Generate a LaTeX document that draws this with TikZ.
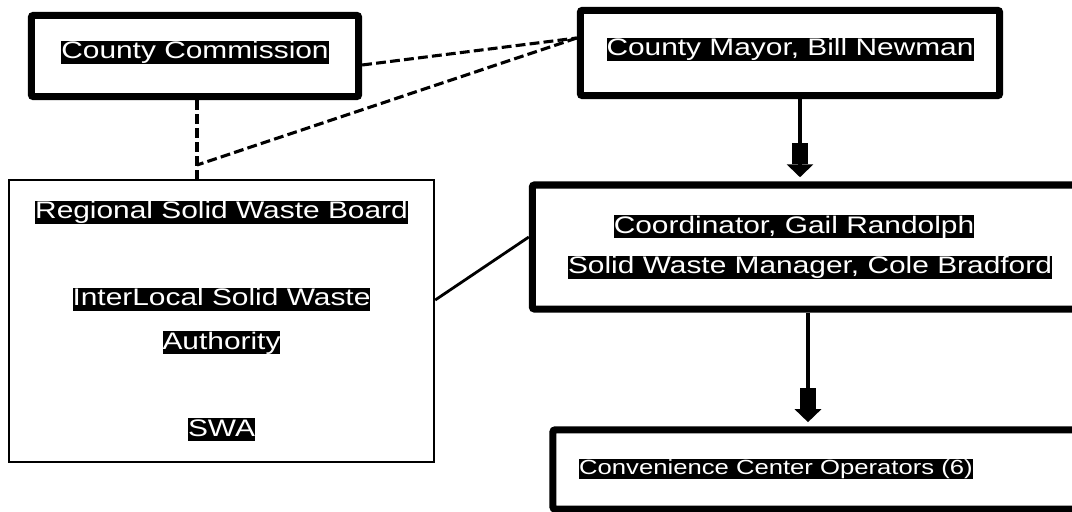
\documentclass[tikz,border=0pt]{standalone}
\usepackage{fontspec}
\setmainfont{Liberation Sans}[FakeStretch=1.25]
\usetikzlibrary{positioning,calc,arrows.meta}
\newcommand{\hl}[1]{{\setlength{\fboxsep}{0pt}\colorbox{black}{\textcolor{white}{\rule[-0.21em]{0pt}{0.96em}#1}}}}

\begin{document}
\begin{tikzpicture}[
	x=0.025cm,y=-0.025cm,
	box/.style={draw,line width=5pt,rounded corners=1.5pt,align=center,inner sep=0pt,font=\fontsize{17}{28.5}\selectfont},
	thinbox/.style={draw,line width=1.5pt,align=center,inner sep=0pt,font=\fontsize{17}{30.9}\selectfont},
	dashlink/.style={line width=2.2pt,dash pattern=on 7pt off 3pt},
	solidlink/.style={line width=2pt},
	arr/.style={line width=3.5pt,shorten >=3pt,-{Rectangle[width=11.7pt,length=15pt,sep=0pt]Triangle[width=18.5pt,length=9.2pt,sep=0pt]}},
]
\useasboundingbox (0,0) rectangle (1072,512);
\node[box,text depth=9pt,minimum width=8.18cm,minimum height=2.03cm] (cc) at (195,56) {\hl{County Commission}};
\node[box,text depth=9pt,minimum width=10.48cm,minimum height=2.13cm] (mayor) at (790,53) {\hl{County Mayor, Bill Newman}};
\node[thinbox,minimum width=10.63cm,minimum height=7.05cm] (swa) at (221.5,321)
	{\hl{Regional Solid Waste Board}\\ \\ \hl{InterLocal Solid Waste}\\ \hl{Authority}\\ \\ \hl{SWA}};
\node[box,minimum width=13.58cm,minimum height=3.1cm] (coord) at (804,247)
	{\hl{Coordinator, Gail Randolph}\hspace*{0.5cm}\\ \hspace*{0.3cm}\hl{Solid Waste Manager, Cole Bradford}};
\node[box,font=\fontsize{14.6}{20}\selectfont,text depth=4pt,minimum width=13.3cm,minimum height=1.98cm] (conv) at (819,469.5)
	{\hl{Convenience Center Operators (6)}\hspace*{2.15cm}};
\coordinate (jn) at (197,165);
\draw[dashlink] ($(cc.east)+(0,9)$) -- ($(mayor.west)+(0,-15)$);
\draw[dashlink] ($(mayor.west)+(0,-15)$) -- (jn);
\draw[dashlink] (jn |- cc.south) -- (jn |- swa.north);
\draw[solidlink] ($(swa.east)+(0,-21)$) -- ($(coord.west)+(0,-10)$);
\draw[arr] ($(mayor.south)+(10,0)$) -- ($(coord.north)+(-4,0)$);
\draw[arr] ($(coord.south)+(4,0)$) -- ($(conv.north)+(-11,0)$);
\end{tikzpicture}
\end{document}
